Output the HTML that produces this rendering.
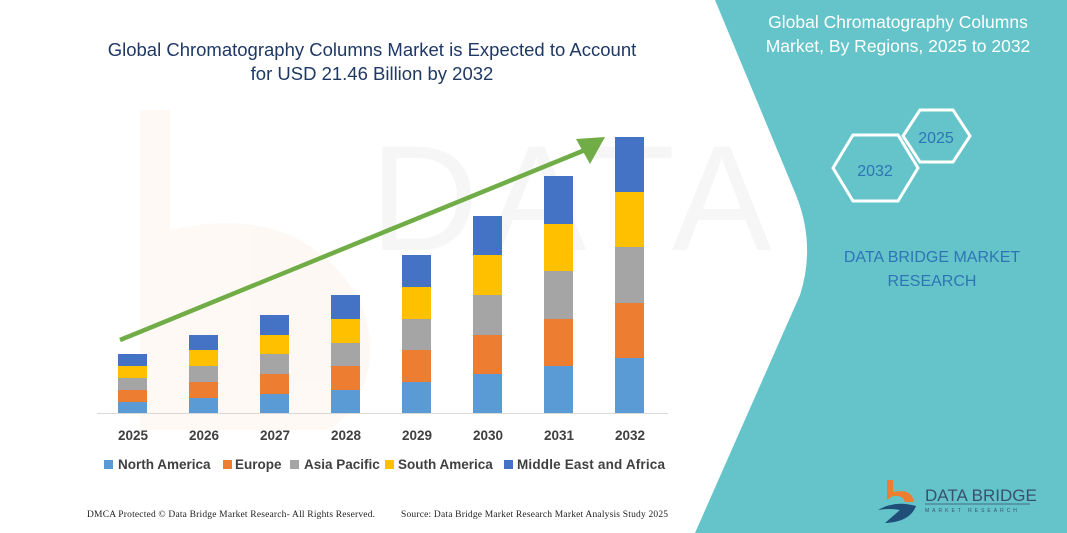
<!DOCTYPE html>
<html><head><meta charset="utf-8"><style>
html,body{margin:0;padding:0;background:#fff;}
svg{display:block;}
</style></head><body>
<svg width="1067" height="533" viewBox="0 0 1067 533" xmlns="http://www.w3.org/2000/svg" font-family="Liberation Sans, sans-serif">
<rect width="1067" height="533" fill="#fff"/>
<g opacity="0.045">
<path d="M140 110 L170 110 L170 230 Q300 200 360 300 Q390 380 330 430 L140 430 Z" fill="#e8701a"/>
<text x="370" y="250" font-size="150" fill="#444" letter-spacing="8">DATA BRIDGE</text>
</g>
<path d="M715 0 L1067 0 L1067 533 L695 533 L800 295 Q816 245 796 195 Z" fill="#64c4c9"/>
<text font-size="17.5" fill="#fff" text-anchor="middle"><tspan x="898" y="28">Global Chromatography Columns</tspan><tspan x="898" y="52">Market, By Regions, 2025 to 2032</tspan></text>
<polygon points="903,136 920,110 953,110 970,136 953,162 920,162" fill="none" stroke="#fff" stroke-width="3"/>
<polygon points="833,168 853,135 898,135 918,168 898,201 853,201" fill="none" stroke="#fff" stroke-width="3"/>
<text x="936" y="143" font-size="16" fill="#2e75b6" text-anchor="middle">2025</text>
<text x="875" y="176" font-size="16" fill="#2e75b6" text-anchor="middle">2032</text>
<text font-size="16" fill="#2e75b6" text-anchor="middle"><tspan x="932" y="262">DATA BRIDGE MARKET</tspan><tspan x="932" y="286">RESEARCH</tspan></text>
<path d="M887 480 L893 480 L893 492 Q912 488 914 502 L905 502 Q903 495 893 496 L887 500 Z" fill="#ed7d31"/>
<path d="M878 510 Q895 500 916 506 Q910 522 885 523 Q893 516 900 510 Q890 508 878 510Z" fill="#1f4e79"/>
<text x="925" y="501" font-size="17" fill="#3a5070">DATA BRIDGE</text>
<line x1="925" y1="504" x2="1030" y2="504" stroke="#3a5070" stroke-width="0.8"/>
<text x="925" y="512" font-size="5" fill="#3a5070" letter-spacing="3">MARKET RESEARCH</text>
<text font-size="18.5" fill="#1f3864" text-anchor="middle"><tspan x="372" y="56">Global Chromatography Columns Market is Expected to Account</tspan><tspan x="372" y="80">for USD 21.46 Billion by 2032</tspan></text>
<g>
<rect x="118" y="402" width="29" height="11" fill="#5b9bd5"/><rect x="118" y="390" width="29" height="12" fill="#ed7d31"/><rect x="118" y="378" width="29" height="12" fill="#a5a5a5"/><rect x="118" y="366" width="29" height="12" fill="#ffc000"/><rect x="118" y="354" width="29" height="12" fill="#4472c4"/>
<rect x="189" y="398" width="29" height="15" fill="#5b9bd5"/><rect x="189" y="382" width="29" height="16" fill="#ed7d31"/><rect x="189" y="366" width="29" height="16" fill="#a5a5a5"/><rect x="189" y="350" width="29" height="16" fill="#ffc000"/><rect x="189" y="335" width="29" height="15" fill="#4472c4"/>
<rect x="260" y="394" width="29" height="19" fill="#5b9bd5"/><rect x="260" y="374" width="29" height="20" fill="#ed7d31"/><rect x="260" y="354" width="29" height="20" fill="#a5a5a5"/><rect x="260" y="335" width="29" height="19" fill="#ffc000"/><rect x="260" y="315" width="29" height="20" fill="#4472c4"/>
<rect x="331" y="390" width="29" height="23" fill="#5b9bd5"/><rect x="331" y="366" width="29" height="24" fill="#ed7d31"/><rect x="331" y="343" width="29" height="23" fill="#a5a5a5"/><rect x="331" y="319" width="29" height="24" fill="#ffc000"/><rect x="331" y="295" width="29" height="24" fill="#4472c4"/>
<rect x="402" y="382" width="29" height="31" fill="#5b9bd5"/><rect x="402" y="350" width="29" height="32" fill="#ed7d31"/><rect x="402" y="319" width="29" height="31" fill="#a5a5a5"/><rect x="402" y="287" width="29" height="32" fill="#ffc000"/><rect x="402" y="255" width="29" height="32" fill="#4472c4"/>
<rect x="473" y="374" width="29" height="39" fill="#5b9bd5"/><rect x="473" y="335" width="29" height="39" fill="#ed7d31"/><rect x="473" y="295" width="29" height="40" fill="#a5a5a5"/><rect x="473" y="255" width="29" height="40" fill="#ffc000"/><rect x="473" y="216" width="29" height="39" fill="#4472c4"/>
<rect x="544" y="366" width="29" height="47" fill="#5b9bd5"/><rect x="544" y="319" width="29" height="47" fill="#ed7d31"/><rect x="544" y="271" width="29" height="48" fill="#a5a5a5"/><rect x="544" y="224" width="29" height="47" fill="#ffc000"/><rect x="544" y="176" width="29" height="48" fill="#4472c4"/>
<rect x="615" y="358" width="29" height="55" fill="#5b9bd5"/><rect x="615" y="303" width="29" height="55" fill="#ed7d31"/><rect x="615" y="247" width="29" height="56" fill="#a5a5a5"/><rect x="615" y="192" width="29" height="55" fill="#ffc000"/><rect x="615" y="137" width="29" height="55" fill="#4472c4"/>
</g>
<line x1="97" y1="413.5" x2="668" y2="413.5" stroke="#d9d9d9" stroke-width="1"/>
<line x1="120" y1="340" x2="585" y2="150" stroke="#70ad47" stroke-width="4.5"/>
<polygon points="605,137 576,139 590,164" fill="#70ad47"/>
<g font-size="13.5" font-weight="bold" fill="#404040" text-anchor="middle">
<text x="133" y="440">2025</text><text x="204" y="440">2026</text><text x="275" y="440">2027</text><text x="346" y="440">2028</text><text x="417" y="440">2029</text><text x="488" y="440">2030</text><text x="559" y="440">2031</text><text x="630" y="440">2032</text>
</g>
<g font-size="13.5" font-weight="bold" fill="#404040">
<rect x="104" y="460" width="9" height="9" fill="#5b9bd5"/><text x="118" y="469">North America</text>
<rect x="223" y="460" width="9" height="9" fill="#ed7d31"/><text x="235" y="469">Europe</text>
<rect x="290" y="460" width="9" height="9" fill="#a5a5a5"/><text x="304" y="469">Asia Pacific</text>
<rect x="385" y="460" width="9" height="9" fill="#ffc000"/><text x="398" y="469">South America</text>
<rect x="504" y="460" width="9" height="9" fill="#4472c4"/><text x="517" y="469" textLength="148">Middle East and Africa</text>
</g>
<g font-family="Liberation Serif, serif" font-size="9.5" fill="#222">
<text x="87" y="517" textLength="288">DMCA Protected © Data Bridge Market Research-  All Rights Reserved.</text>
<text x="401" y="517" textLength="267">Source: Data Bridge Market Research  Market Analysis Study 2025</text>
</g>
</svg>
</body></html>
